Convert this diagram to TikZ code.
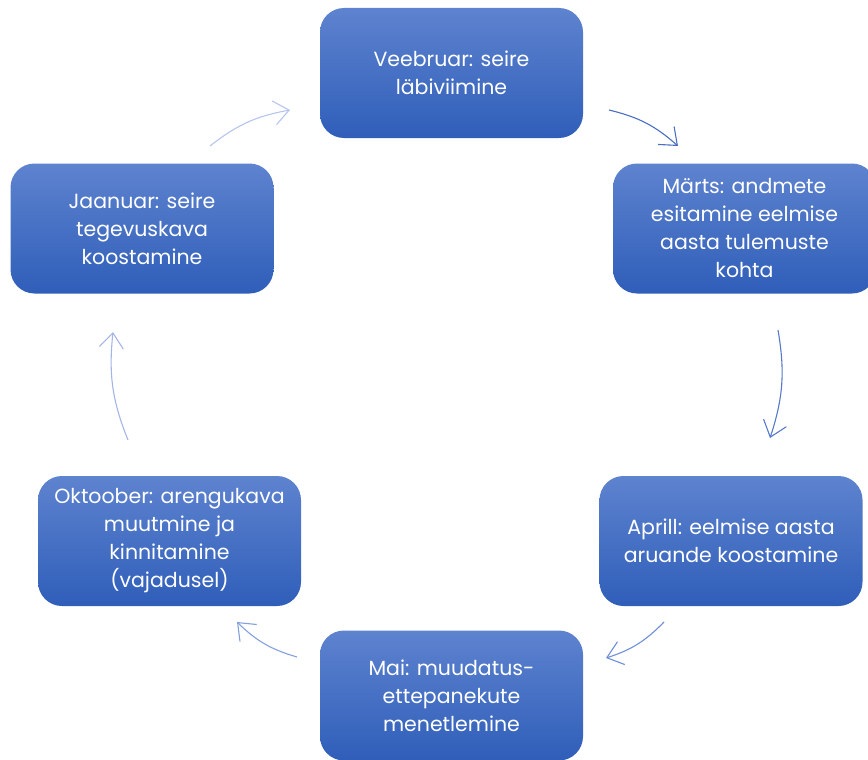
\documentclass[tikz,border=0pt]{standalone}
\usepackage{fontspec}
\setmainfont{Poppins}
\usetikzlibrary{arrows.meta}

\definecolor{boxtop}{HTML}{5E83CF}
\definecolor{boxbot}{HTML}{2F5EB9}
\definecolor{arrA}{HTML}{4A6EC4}
\definecolor{arrB}{HTML}{5579CB}
\definecolor{arrC}{HTML}{6F8FD8}
\definecolor{arrD}{HTML}{859FDE}
\definecolor{arrE}{HTML}{A4B6E6}
\definecolor{arrF}{HTML}{B5C5EE}

\begin{document}
\begin{tikzpicture}[x=1pt,y=-1pt,
	box/.style={rounded corners=24pt, minimum width=263pt, minimum height=130pt,
		inner sep=0pt, top color=boxtop, bottom color=boxbot, text=white,
		align=center, font=\fontsize{20.5}{28}\selectfont},
	flow/.style={line width=1.1pt, -{Straight Barb[length=15pt,width=24pt,line width=1.1pt]}, bend left=14}]
	\useasboundingbox (0,0) rectangle (868,760);
		\node[box] (veebr) at (451.5,73) {Veebruar: seire\\läbiviimine};
		\node[box] (marts) at (744.5,228.5) {Märts: andmete\\esitamine eelmise\\aasta tulemuste\\kohta};
		\node[box] (aprill) at (731,541) {Aprill: eelmise aasta\\aruande koostamine};
		\node[box] (mai) at (451.5,695.5) {Mai: muudatus-\\ettepanekute\\menetlemine};
		\node[box] (okt) at (169.5,541) {Oktoober: arengukava\\muutmine ja\\kinnitamine\\(vajadusel)};
		\node[box] (jaan) at (142,228.5) {Jaanuar: seire\\tegevuskava\\koostamine};
	% arrow ends
		\coordinate (a1) at (609,110); \coordinate (b1) at (678,146);
		\coordinate (a2) at (778,330); \coordinate (b2) at (770,438);
		\coordinate (a3) at (664,622); \coordinate (b3) at (606,658);
		\coordinate (a4) at (297,657); \coordinate (b4) at (237,622);
		\coordinate (a5) at (128,440); \coordinate (b5) at (113,332);
		\coordinate (a6) at (210,146); \coordinate (b6) at (290,110);
		\draw[flow, arrA] (a1) to (b1);
		\draw[flow, arrB] (a2) to (b2);
		\draw[flow, arrC] (a3) to (b3);
		\draw[flow, arrD] (a4) to (b4);
		\draw[flow, arrE] (a5) to (b5);
		\draw[flow, arrF] (a6) to (b6);
\end{tikzpicture}
\end{document}
